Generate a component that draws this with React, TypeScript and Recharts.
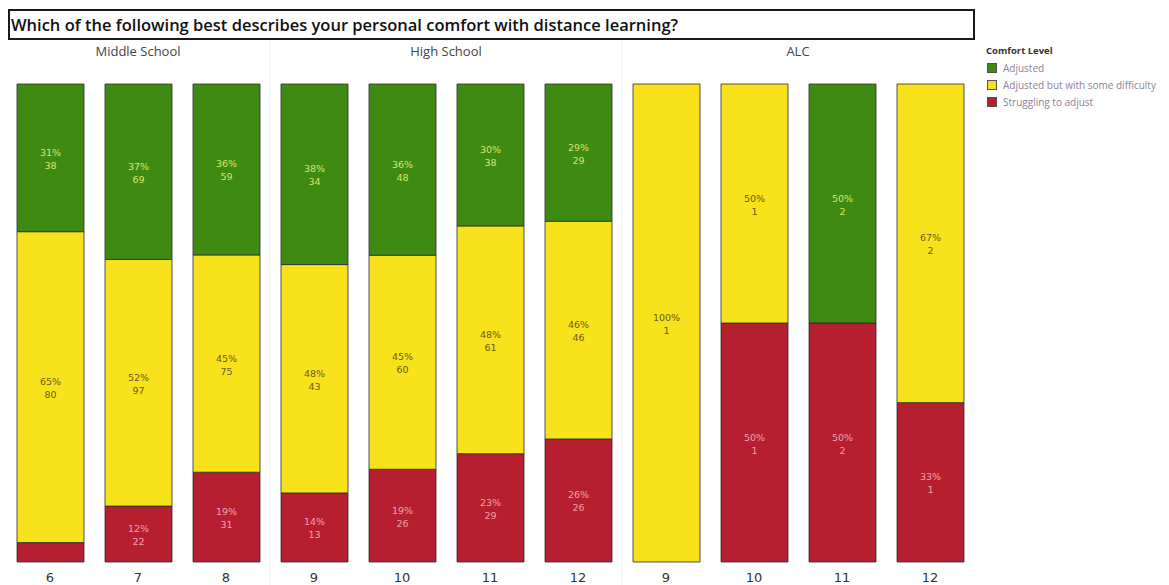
import { BarChart, Bar, XAxis, YAxis, LabelList } from 'recharts';

const categories = ['6', '7', '8', '9', '10', '11', '12', '9', '10', '11', '12'];
const schoolOf = ['MS', 'MS', 'MS', 'HS', 'HS', 'HS', 'HS', 'ALC', 'ALC', 'ALC', 'ALC'];
const schoolGroups = [
  { id: 'MS', name: 'Middle School' },
  { id: 'HS', name: 'High School' },
  { id: 'ALC', name: 'ALC' },
];

// respondent counts per comfort level
const adjusted = [38, 69, 59, 34, 48, 38, 29, 0, 0, 2, 0];
const someDifficulty = [80, 97, 75, 43, 60, 61, 46, 1, 1, 0, 2];
const struggling = [5, 22, 31, 13, 26, 29, 26, 0, 1, 2, 1];

const GREEN = '#3f8a12';
const YELLOW = '#f7e21c';
const RED = '#b51f30';

const series = [
  { key: 'struggling', name: 'Struggling to adjust', values: struggling, fill: RED, text: '#f2a3aa' },
  { key: 'difficulty', name: 'Adjusted but with some difficulty', values: someDifficulty, fill: YELLOW, text: '#6b5a12' },
  { key: 'adjusted', name: 'Adjusted', values: adjusted, fill: GREEN, text: '#dbe46a' },
];

const totals = categories.map((_, i) => adjusted[i] + someDifficulty[i] + struggling[i]);

const data = categories.map((grade, i) => ({
  id: `${schoolOf[i]}-${grade}`,
  grade,
  adjusted: adjusted[i],
  difficulty: someDifficulty[i],
  struggling: struggling[i],
}));

const W = 980;
const H = 585;
const M = { top: 84, right: 6, bottom: 0, left: 6 };
const band = (W - M.left - M.right) / categories.length;
const font = '"DejaVu Sans", Verdana, sans-serif';

// recharts skips zero-height segments when indexing labels, so find the category from x
const segmentLabel = (values: number[], color: string) => (props: any) => {
  const { x, y, width, height } = props;
  const index = Math.floor((x + width / 2 - M.left) / band);
  const v = values[index];
  if (!v || height < 26) return null;
  const pct = Math.round((v / totals[index]) * 100);
  const cx = x + width / 2;
  const cy = y + height / 2;
  return (
    <text x={cx} y={cy} textAnchor="middle" fill={color} fontSize={9.5} fontFamily={font}>
      <tspan x={cx} dy={-2}>{pct}%</tspan>
      <tspan x={cx} dy={13}>{v}</tspan>
    </text>
  );
};

export default function App() {
  const groupCenters = schoolGroups.map((g) => {
    const idx = schoolOf.map((s, i) => (s === g.id ? i : -1)).filter((i) => i >= 0);
    const mid = (idx[0] + idx[idx.length - 1] + 1) / 2;
    return { ...g, cx: M.left + mid * band, start: idx[0] };
  });

  return (
    <div style={{ position: 'absolute', left: 0, top: 0, width: 1169, height: 585, background: '#fff', fontFamily: '"Open Sans", sans-serif' }}>
      <div
        style={{
          position: 'absolute', left: 8, top: 9, width: 962, height: 27,
          border: '2px solid #1a1a1a', fontSize: 16.5, lineHeight: '27px', fontWeight: 600,
          paddingLeft: 1, color: '#111', whiteSpace: 'nowrap',
        }}
      >
        Which of the following best describes your personal comfort with distance learning?
      </div>
      {groupCenters.slice(1).map((g) => (
        <div key={g.id} style={{ position: 'absolute', left: M.left + g.start * band - 1, top: 40, width: 1, height: 545, background: '#f3f3f3' }} />
      ))}
      {groupCenters.map((g) => (
        <div key={g.id} style={{ position: 'absolute', left: g.cx - 80, width: 160, top: 42, textAlign: 'center', fontSize: 13, color: '#444' }}>
          {g.name}
        </div>
      ))}
      <div style={{ position: 'absolute', left: 0, top: 0 }}>
        <BarChart width={W} height={H} data={data} margin={M} stackOffset="expand">
          <XAxis
            dataKey="id"
            tickFormatter={(_v: any, i: number) => categories[i]}
            axisLine={false}
            tickLine={false}
            height={23}
            interval={0}
            tick={{ fontSize: 13, fill: '#333', fontFamily: font, dy: 3 }}
          />
          <YAxis hide domain={[0, 1]} />
          {series.map((s) => (
            <Bar
              key={s.key}
              dataKey={s.key}
              name={s.name}
              stackId="a"
              fill={s.fill}
              stroke="#2b2b2b"
              strokeWidth={0.8}
              barSize={67}
              isAnimationActive={false}
            >
              <LabelList dataKey={s.key} content={segmentLabel(s.values, s.text)} />
            </Bar>
          ))}
        </BarChart>
      </div>
      <div style={{ position: 'absolute', left: 986, top: 44, fontSize: 9.5, fontWeight: 700, color: '#333' }}>Comfort Level</div>
      {[...series].reverse().map((s, i) => (
        <div key={s.key} style={{ position: 'absolute', left: 987, top: 61 + i * 17, display: 'flex', alignItems: 'center', whiteSpace: 'nowrap' }}>
          <div style={{ width: 10, height: 10, background: s.fill, border: '1px solid #555', boxSizing: 'border-box' }} />
          <span style={{ marginLeft: 6, fontSize: 10, color: '#8a8299' }}>{s.name}</span>
        </div>
      ))}
    </div>
  );
}
